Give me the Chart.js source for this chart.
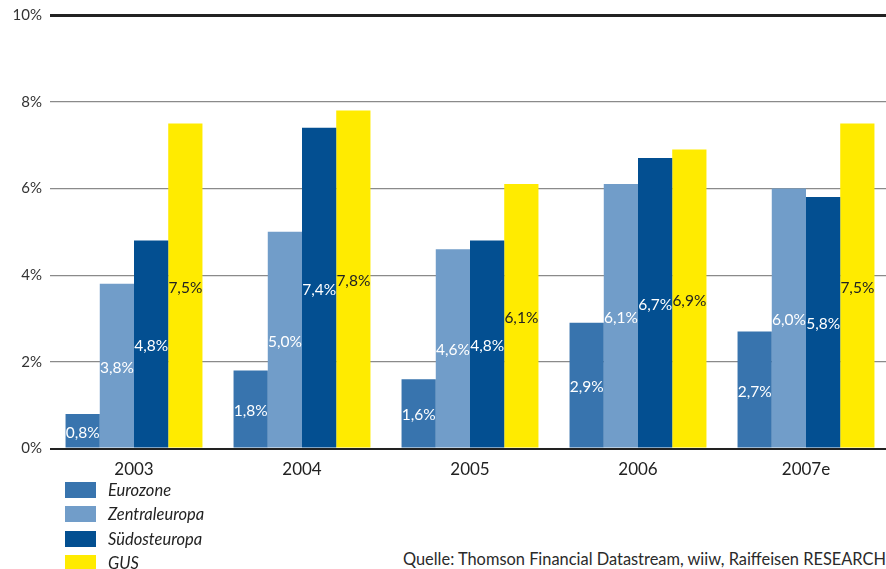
<!DOCTYPE html>
<html>
<head>
<meta charset="utf-8">
<script src="https://cdn.jsdelivr.net/npm/chart.js@4"></script>
<style>
html,body{margin:0;padding:0;background:#fff;overflow:hidden;width:886px;height:569px;}
#wrap{position:absolute;left:0;top:-2px;width:890px;height:485px;}
#legend{position:absolute;left:65px;top:478px;font-family:Lato,"DejaVu Sans",sans-serif;font-style:italic;font-size:16.5px;color:#222;}
.li{height:24.3px;display:flex;align-items:center;}
.sw{width:31px;height:16px;margin-right:12px;}
#src{position:absolute;right:0;top:549px;font-family:Lato,"DejaVu Sans",sans-serif;font-size:16.4px;color:#2a2a2a;white-space:nowrap;}
</style>
</head>
<body>
<div id="wrap"><canvas id="c"></canvas></div>
<div id="legend"></div>
<div id="src">Quelle: Thomson Financial Datastream, wiiw, Raiffeisen RESEARCH</div>
<script>
const categories = ["2003", "2004", "2005", "2006", "2007e"];
const seriesNames = ["Eurozone", "Zentraleuropa", "Südosteuropa", "GUS"];
const eurozone = [0.8, 1.8, 1.6, 2.9, 2.7];
const zentraleuropa = [3.8, 5.0, 4.6, 6.1, 6.0];
const suedosteuropa = [4.8, 7.4, 4.8, 6.7, 5.8];
const gus = [7.5, 7.8, 6.1, 6.9, 7.5];
const yTicks = [0, 2, 4, 6, 8, 10];

const colors = ["#3874ae", "#719dc9", "#034f91", "#ffeb00"];
const labelColors = ["#ffffff", "#ffffff", "#ffffff", "#222222"];
const seriesData = [eurozone, zentraleuropa, suedosteuropa, gus];

const fontFam = 'Lato, "DejaVu Sans", sans-serif';

const legendEl = document.getElementById('legend');
seriesNames.forEach((n, i) => {
  const d = document.createElement('div'); d.className = 'li';
  d.innerHTML = '<span class="sw" style="background:' + colors[i] + '"></span><span>' + n + '</span>';
  legendEl.appendChild(d);
});

const labelPlugin = {
  id: 'barLabels',
  afterDatasetsDraw(chart) {
    const ctx = chart.ctx;
    ctx.save();
    ctx.font = '15.5px ' + fontFam;
    ctx.textAlign = 'center';
    ctx.textBaseline = 'middle';
    chart.data.datasets.forEach((ds, di) => {
      const meta = chart.getDatasetMeta(di);
      meta.data.forEach((bar, i) => {
        const v = ds.data[i];
        const y = (bar.y + bar.base) / 2 + 2;
        ctx.fillStyle = labelColors[di];
        ctx.fillText(v.toFixed(1).replace('.', ',') + '%', bar.x, y);
      });
    });
    ctx.restore();
  }
};

new Chart(document.getElementById('c'), {
  type: 'bar',
  data: {
    labels: categories,
    datasets: seriesNames.map((n, i) => ({
      label: n,
      data: seriesData[i],
      backgroundColor: colors[i],
      borderWidth: 0,
      categoryPercentage: 0.815,
      barPercentage: 1.0
    }))
  },
  options: {
    responsive: true,
    maintainAspectRatio: false,
    animation: false,
    layout: { padding: { top: 4, right: 0, left: 0, bottom: 0 } },
    plugins: { legend: { display: false }, tooltip: { enabled: false } },
    scales: {
      x: {
        grid: { display: false },
        border: { display: false },
        ticks: { color: '#222', font: { family: fontFam, size: 17 }, padding: 3 }
      },
      y: {
        min: 0, max: 10,
        afterBuildTicks: (ax) => { ax.ticks = yTicks.map(v => ({ value: v })); },
        afterFit: (ax) => { ax.width = 50; },
        border: { display: false },
        grid: {
          drawTicks: false,
          color: (c) => (c.tick && (c.tick.value === 10 || c.tick.value === 0)) ? '#222' : '#8a8a8a',
          lineWidth: (c) => (c.tick && c.tick.value === 10) ? 3 : (c.tick && c.tick.value === 0 ? 2 : 1.3)
        },
        ticks: {
          color: '#333',
          font: { family: fontFam, size: 15 },
          padding: 8,
          callback: (v) => v + '%'
        }
      }
    }
  },
  plugins: [labelPlugin]
});
</script>
</body>
</html>
